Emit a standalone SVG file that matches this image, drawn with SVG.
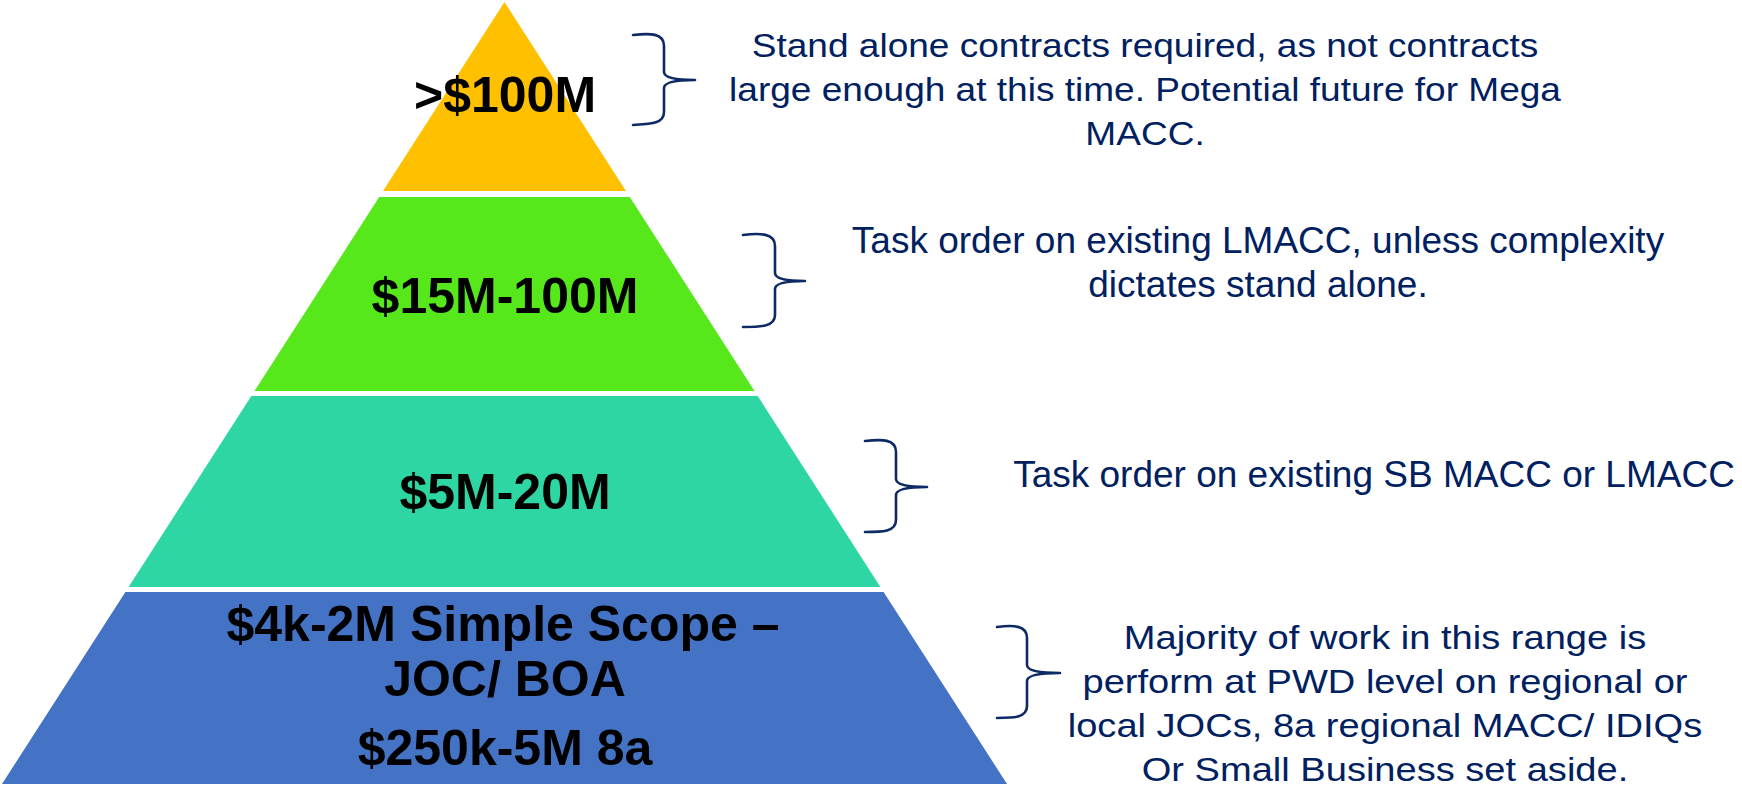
<svg xmlns="http://www.w3.org/2000/svg" width="1742" height="789" viewBox="0 0 1742 789">
<style>
.lbl{font-family:"Liberation Sans",Arial,sans-serif;font-weight:bold;font-size:50px;fill:#000;text-anchor:middle}
.note{font-family:"Liberation Sans",Arial,sans-serif;font-size:37px;fill:#002060;text-anchor:middle}
.noteS{font-family:"Liberation Sans",Arial,sans-serif;font-size:34px;fill:#002060;text-anchor:middle}
.brace{fill:none;stroke:#0E2A66;stroke-width:2.6;stroke-linecap:round;stroke-linejoin:round}
</style>
<rect width="1742" height="789" fill="#fff"/>
<g id="tier-100M">
<polygon points="504.5,2 626,191 383,191" fill="#FFC000"/>
<text class="lbl" x="505" y="112">&gt;$100M</text>
</g>
<g id="tier-15M">
<polygon points="379.2,197 629.8,197 754.5,391 254.5,391" fill="#56E81B"/>
<text class="lbl" x="505" y="313">$15M-100M</text>
</g>
<g id="tier-5M">
<polygon points="251.3,396 757.7,396 880.4,587 128.6,587" fill="#2ED6A4"/>
<text class="lbl" x="505" y="509">$5M-20M</text>
</g>
<g id="tier-4k">
<polygon points="125.4,592 883.6,592 1007,784 2,784" fill="#4472C4"/>
<text class="lbl" x="503" y="641">$4k-2M Simple Scope –</text>
<text class="lbl" x="505" y="696">JOC/ BOA</text>
<text class="lbl" x="505" y="765">$250k-5M 8a</text>
</g>
<g id="connectors">
<path class="brace" d="M633,35 C650,33 664,33 664,46 L664,72 Q664,80 695,80 Q664,80 664,88 L664,112 C664,124 650,124 633,125"/>
<path class="brace" d="M743,235 C760,233 775,233 775,246 L775,273 Q775,281 805,281 Q775,281 775,289 L775,315 C775,327 760,327 743,327"/>
<path class="brace" d="M865,441 C882,439 896,439 896,452 L896,479 Q896,487 927,487 Q896,487 896,495 L896,520 C896,532 882,532 865,532"/>
<path class="brace" d="M997,627 C1013,625 1027,625 1027,638 L1027,665 Q1027,673 1060,673 Q1027,673 1027,681 L1027,706 C1027,718 1013,718 997,718"/>
</g>
<g id="note-100M" transform="translate(1145,0) scale(1.09,1)">
<text class="noteS" x="0" y="57">Stand alone contracts required, as not contracts</text>
<text class="noteS" x="0" y="101">large enough at this time. Potential future for Mega</text>
<text class="noteS" x="0" y="145">MACC.</text>
</g>
<g id="note-15M">
<text class="note" x="1258" y="253">Task order on existing LMACC, unless complexity</text>
<text class="note" x="1258" y="297">dictates stand alone.</text>
</g>
<g id="note-5M">
<text class="note" x="1374" y="487">Task order on existing SB MACC or LMACC</text>
</g>
<g id="note-4k" transform="translate(1385,0) scale(1.12,1)">
<text class="noteS" x="0" y="649">Majority of work in this range is</text>
<text class="noteS" x="0" y="693">perform at PWD level on regional or</text>
<text class="noteS" x="0" y="737">local JOCs, 8a regional MACC/ IDIQs</text>
<text class="noteS" x="0" y="781">Or Small Business set aside.</text>
</g>
</svg>
